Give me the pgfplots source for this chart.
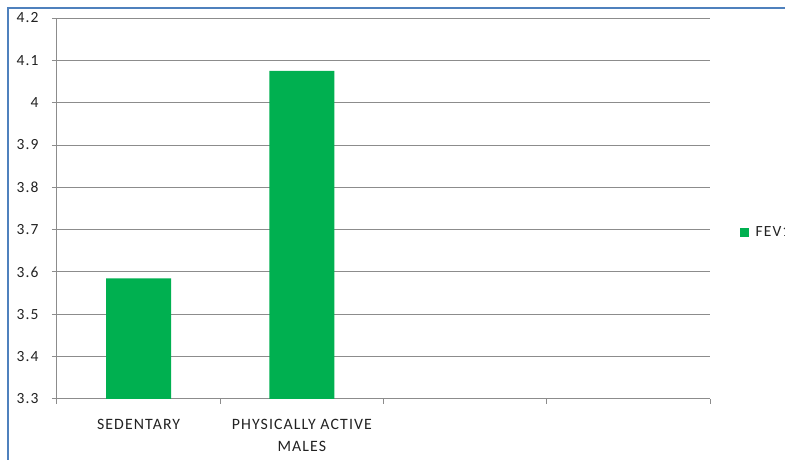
\documentclass[border=0pt]{standalone}
\usepackage{pgfplots}
\pgfplotsset{compat=1.18}
\usepackage{fontspec}
\setmainfont{Carlito}[LetterSpace=7]
\definecolor{barg}{HTML}{00B050}
\definecolor{gridg}{HTML}{8C8C8C}
\definecolor{frameb}{HTML}{4F81BD}
\definecolor{txt}{HTML}{222222}
\begin{document}
\fontsize{16}{22}\selectfont
\begin{tikzpicture}[x=1pt,y=1pt]
\clip (0,0) rectangle (785,460);
\fill[white] (0,0) rectangle (785,460);
\draw[frameb, line width=2pt] (8,-20) rectangle (800,452);
\begin{axis}[
  at={(57pt,61pt)}, anchor=south west,
  width=653pt, height=381pt, scale only axis,
  xmin=-0.5, xmax=3.5, ymin=3.3, ymax=4.2,
  ytick={3.3,3.4,3.5,3.6,3.7,3.8,3.9,4,4.1,4.2},
  yticklabels={3.3,3.4,3.5,3.6,3.7,3.8,3.9,4,4.1,4.2},
  axis x line*=bottom, axis y line*=left,
  axis line style={gridg, line width=1pt, -},
  ymajorgrids, grid style={gridg, line width=1pt},
  tick align=outside,
  major tick length=5pt, minor tick length=5pt,
  tick style={gridg, line width=1pt},
  major x tick style={draw=none},
  xtick={0,1},
  xticklabels={SEDENTARY, {PHYSICALLY ACTIVE\\MALES}},
  xticklabel style={align=center, font=\fontsize{15.8}{22}\selectfont, text=txt, yshift=-10pt},
  yticklabel style={font=\fontsize{15.5}{16}\selectfont, text=txt, xshift=-8pt},
  minor xtick={-0.5,0.5,1.5,2.5,3.5},
  /pgf/number format/assume math mode=true,
  ybar, bar width=65pt,
  legend style={at={(1.046,0.436)}, anchor=west, draw=none, fill=none,
    inner sep=0pt, font=\fontsize{15.5}{16}\selectfont, text=txt,
    /tikz/every odd column/.append style={column sep=5pt}},
  legend image code/.code={\fill[barg] (0pt,-4.5pt) rectangle (8.5pt,4.5pt);},
  clip=false,
]
\addplot[fill=barg, draw=none] coordinates {(0,3.585) (1,4.075)};
\addlegendentry{FEV1}
\end{axis}
\end{tikzpicture}
\end{document}
